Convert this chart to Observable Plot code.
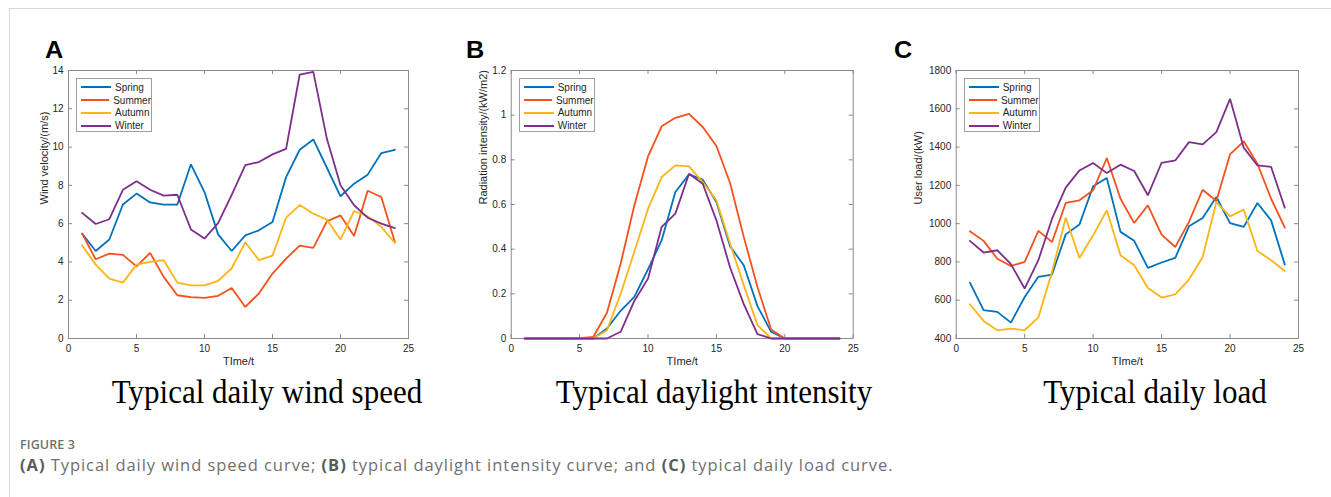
<!DOCTYPE html>
<html>
<head>
<meta charset="utf-8">
<script src="https://cdn.jsdelivr.net/npm/d3@7"></script>
<script src="https://cdn.jsdelivr.net/npm/@observablehq/plot@0.6"></script>
<style>
  html, body { margin: 0; padding: 0; background: #fff; }
  #root { position: relative; width: 1331px; height: 497px; overflow: hidden; font-family: "Liberation Sans", Arial, sans-serif; }
  .border { position: absolute; left: 9px; top: 8px; width: 1340px; height: 600px; border-top: 1px solid #d9d9d9; border-left: 1px solid #d9d9d9; }
  .panel { position: absolute; top: 60px; }
  .letter { position: absolute; font: bold 23px "Liberation Sans", Arial, sans-serif; color: #000; transform: scaleX(1.1); transform-origin: left top; }
  .sub { position: absolute; top: 372px; font: 31px "Liberation Serif", "Times New Roman", serif; color: #000; transform: translateX(-50%) scaleY(1.12); transform-origin: center top; white-space: nowrap; }
  .legend { position: absolute; top: 78px; width: 76px; height: 54px; border: 1px solid #a0a0a0; background: #fff; box-sizing: border-box; padding-top: 2px; }
  .legend .row { display: flex; align-items: center; height: 12.8px; font: 10px "Liberation Sans", Arial, sans-serif; color: #262626; }
  .legend .sw { width: 30px; height: 2px; margin-left: 4px; margin-right: 4px; }
  .fig { position: absolute; left: 20px; top: 438px; font: 600 12.5px/13px "Open Sans", sans-serif; color: #707070; letter-spacing: 0.1px; }
  .cap { position: absolute; left: 20px; top: 456px; font: 16.5px/17px "Open Sans", sans-serif; color: #707070; letter-spacing: 0.95px; white-space: nowrap; }
  .cap b { font-weight: 700; color: #5a5a5a; }
</style>
</head>
<body>
<div id="root"><div class="border"></div></div>
<script>
// ---- data ----
const hours = d3.range(1, 25);
const seasons = ["Spring", "Summer", "Autumn", "Winter"];
const seasonColors = ["#0072BD", "#F4511E", "#FDB515", "#7E2F8E"];

const windSpring = [5.48, 4.57, 5.17, 7.0, 7.57, 7.11, 6.99, 6.99, 9.1, 7.65, 5.44, 4.57, 5.39, 5.65, 6.09, 8.43, 9.86, 10.4, 8.92, 7.43, 8.09, 8.56, 9.69, 9.86];
const windSummer = [5.48, 4.14, 4.43, 4.37, 3.77, 4.47, 3.22, 2.26, 2.16, 2.12, 2.23, 2.64, 1.65, 2.35, 3.39, 4.17, 4.85, 4.73, 6.12, 6.43, 5.36, 7.72, 7.39, 5.03];
const windAutumn = [4.87, 3.86, 3.13, 2.92, 3.86, 4.0, 4.09, 2.92, 2.78, 2.78, 3.01, 3.67, 5.03, 4.09, 4.33, 6.31, 6.97, 6.52, 6.21, 5.17, 6.66, 6.38, 5.83, 4.99];
const windWinter = [6.56, 5.98, 6.23, 7.77, 8.21, 7.77, 7.46, 7.51, 5.7, 5.22, 6.03, 7.5, 9.06, 9.22, 9.62, 9.91, 13.79, 13.93, 10.43, 8.0, 6.96, 6.31, 6.0, 5.77];

const radSpring = [0, 0, 0, 0, 0, 0, 0.045, 0.124, 0.186, 0.31, 0.44, 0.656, 0.735, 0.711, 0.611, 0.413, 0.328, 0.145, 0.03, 0, 0, 0, 0, 0];
const radSummer = [0, 0, 0, 0, 0.002, 0.007, 0.115, 0.335, 0.596, 0.815, 0.95, 0.988, 1.006, 0.947, 0.862, 0.696, 0.455, 0.231, 0.04, 0, 0, 0, 0, 0];
const radAutumn = [0, 0, 0, 0, 0, 0, 0.037, 0.2, 0.388, 0.58, 0.723, 0.775, 0.771, 0.7, 0.619, 0.425, 0.239, 0.06, 0, 0, 0, 0, 0, 0];
const radWinter = [0, 0, 0, 0, 0, 0, 0, 0.03, 0.168, 0.268, 0.5, 0.559, 0.738, 0.693, 0.529, 0.318, 0.154, 0.02, 0, 0, 0, 0, 0, 0];

const loadSpring = [692, 548, 539, 483, 617, 722, 734, 944, 995, 1195, 1238, 957, 910, 769, 797, 821, 986, 1030, 1139, 1003, 983, 1108, 1017, 786];
const loadSummer = [960, 910, 817, 779, 800, 962, 904, 1108, 1122, 1174, 1343, 1130, 1003, 1096, 943, 878, 1009, 1177, 1118, 1362, 1430, 1313, 1130, 979];
const loadAutumn = [579, 492, 443, 452, 443, 510, 748, 1031, 821, 939, 1070, 835, 783, 664, 614, 630, 708, 826, 1113, 1038, 1073, 857, 809, 753];
const loadWinter = [910, 849, 861, 788, 661, 809, 1026, 1188, 1278, 1317, 1264, 1308, 1275, 1148, 1318, 1330, 1426, 1414, 1478, 1652, 1397, 1304, 1296, 1083];

const xTicks = [0, 5, 10, 15, 20, 25];
const windTicks = [0, 2, 4, 6, 8, 10, 12, 14];
const radTicks = [0, 0.2, 0.4, 0.6, 0.8, 1, 1.2];
const loadTicks = [400, 600, 800, 1000, 1200, 1400, 1600, 1800];

const xLabel = "TIme/t";
const panels = [
  {letter: "A", yLabel: "Wind velocity/(m/s)", sub: "Typical daily wind speed", series: [windSpring, windSummer, windAutumn, windWinter], yTicks: windTicks, domain: [0, 14]},
  {letter: "B", yLabel: "Radiation intensity/(kW/m2)", sub: "Typical daylight intensity", series: [radSpring, radSummer, radAutumn, radWinter], yTicks: radTicks, domain: [0, 1.2]},
  {letter: "C", yLabel: "User load/(kW)", sub: "Typical daily load", series: [loadSpring, loadSummer, loadAutumn, loadWinter], yTicks: loadTicks, domain: [400, 1800]}
];

// ---- layout ----
const layout = [
  {left: 0, width: 430, ml: 68, mr: 22, ylDx: -24, letterX: 45, letterY: 37, subX: 267},
  {left: 440, width: 430, ml: 70.7, mr: 17.3, ylDx: -28, letterX: 466, letterY: 37, subX: 714},
  {left: 880, width: 440, ml: 75.7, mr: 22, ylDx: -38, letterX: 894, letterY: 37, subX: 1155}
];
const H = 320, MT = 10, MB = 42;
const innerH = H - MT - MB;
const tickLen = 4;
const root = document.getElementById("root");

panels.forEach((p, i) => {
  const L = layout[i];
  const innerW = L.width - L.ml - L.mr;
  const rows = [];
  p.series.forEach((vals, s) => vals.forEach((v, j) => rows.push({t: hours[j], v, season: seasons[s]})));
  const axisColor = "#8a8a8a";
  const chart = Plot.plot({
    width: L.width, height: H,
    marginLeft: L.ml, marginRight: L.mr, marginTop: MT, marginBottom: MB,
    style: {fontFamily: "'Liberation Sans', Arial, sans-serif", fontSize: "10px", color: "#262626", background: "transparent"},
    x: {domain: [0, 25]},
    y: {domain: p.domain},
    color: {domain: seasons, range: seasonColors},
    marks: [
      Plot.frame({stroke: axisColor, strokeWidth: 1}),
      Plot.tickX(xTicks, {x: d => d, stroke: axisColor, insetTop: innerH - tickLen}),
      Plot.tickX(xTicks, {x: d => d, stroke: axisColor, insetBottom: innerH - tickLen}),
      Plot.tickY(p.yTicks, {y: d => d, stroke: axisColor, insetRight: innerW - tickLen}),
      Plot.tickY(p.yTicks, {y: d => d, stroke: axisColor, insetLeft: innerW - tickLen}),
      Plot.axisX({ticks: xTicks, tickSize: 0, tickPadding: 6, label: null, tickFormat: d3.format("d"), fill: "#262626"}),
      Plot.axisY({ticks: p.yTicks, tickSize: 0, tickPadding: 5, label: null, tickFormat: d => String(d), fill: "#262626"}),
      Plot.text([xLabel], {frameAnchor: "bottom", text: d => d, dy: 26, fill: "#262626", fontSize: 11}),
      Plot.text([p.yLabel], {frameAnchor: "left", text: d => d, rotate: -90, dx: L.ylDx, fill: "#262626", fontSize: 11}),
      Plot.line(rows, {x: "t", y: "v", z: "season", stroke: "season", strokeWidth: 1.8, strokeLinejoin: "miter"})
    ]
  });
  chart.classList.add("panel");
  chart.style.left = L.left + "px";
  chart.style.position = "absolute";
  root.appendChild(chart);

  const letter = document.createElement("div");
  letter.className = "letter";
  letter.textContent = p.letter;
  letter.style.left = L.letterX + "px";
  letter.style.top = L.letterY + "px";
  root.appendChild(letter);

  const leg = document.createElement("div");
  leg.className = "legend";
  leg.style.left = (L.left + L.ml + 8) + "px";
  seasons.forEach((s, k) => {
    const row = document.createElement("div");
    row.className = "row";
    const sw = document.createElement("span");
    sw.className = "sw";
    sw.style.background = seasonColors[k];
    const tx = document.createElement("span");
    tx.textContent = s;
    row.appendChild(sw); row.appendChild(tx);
    leg.appendChild(row);
  });
  root.appendChild(leg);

  const sub = document.createElement("div");
  sub.className = "sub";
  sub.textContent = p.sub;
  sub.style.left = L.subX + "px";
  root.appendChild(sub);
});

const fig = document.createElement("div");
fig.className = "fig";
fig.textContent = "FIGURE 3";
root.appendChild(fig);
const cap = document.createElement("div");
cap.className = "cap";
cap.innerHTML = "<b>(A)</b> Typical daily wind speed curve; <b>(B)</b> typical daylight intensity curve; and <b>(C)</b> typical daily load curve.";
root.appendChild(cap);
</script>
</body>
</html>
